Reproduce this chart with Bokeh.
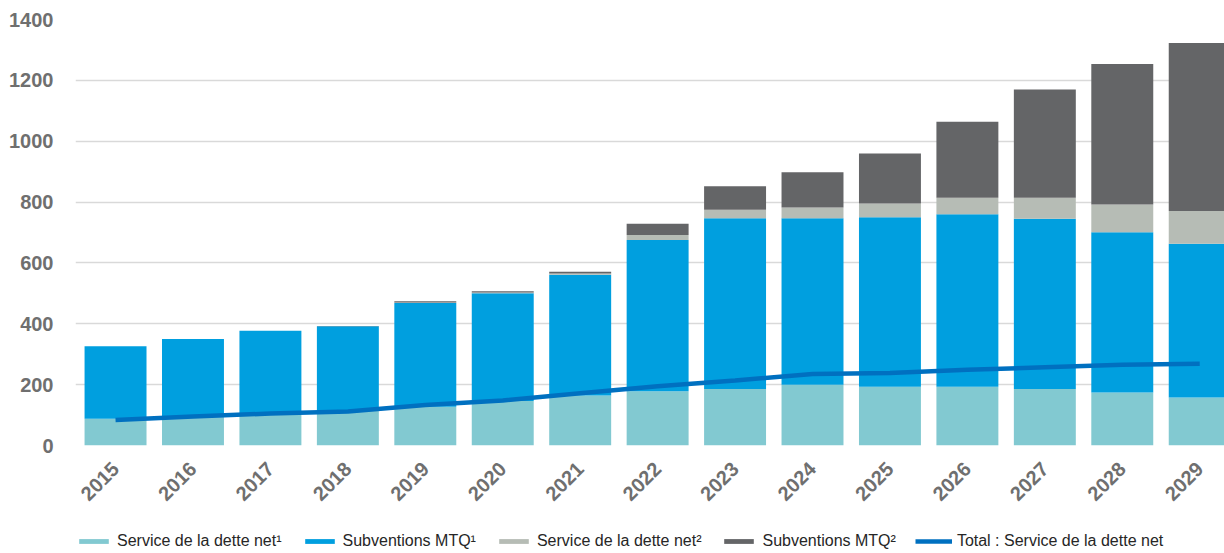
import math
from bokeh.plotting import figure
from bokeh.layouts import column
from bokeh.models import (ColumnDataSource, Range1d, FixedTicker, Legend, LegendItem)
from bokeh.embed import file_html
from bokeh.resources import INLINE

years = [2015, 2016, 2017, 2018, 2019, 2020, 2021, 2022, 2023, 2024, 2025, 2026, 2027, 2028, 2029]
service_net_1 = [88, 93, 104, 113, 127, 146, 164, 178, 186, 200, 193, 193, 186, 174, 158]
subventions_mtq_1 = [238, 257, 273, 279, 341, 354, 397, 497, 561, 547, 557, 567, 559, 527, 505]
service_net_2 = [0, 0, 0, 0, 2, 3, 4, 17, 28, 35, 45, 54, 69, 91, 108]
subventions_mtq_2 = [0, 0, 0, 1, 4, 4, 6, 37, 77, 116, 165, 250, 356, 462, 552]
total_service_net = [84, 95, 105, 112, 133, 148, 172, 195, 214, 235, 238, 249, 257, 265, 269]
y_ticks = [0, 200, 400, 600, 800, 1000, 1200, 1400]

labels = ["Service de la dette net\u00b9", "Subventions MTQ\u00b9",
          "Service de la dette net\u00b2", "Subventions MTQ\u00b2",
          "Total : Service de la dette net"]
colors = ["#82C9D1", "#009FDF", "#B6BCB5", "#646567"]
line_color = "#0070C0"

source = ColumnDataSource(dict(year=years, s1=service_net_1, m1=subventions_mtq_1,
                               s2=service_net_2, m2=subventions_mtq_2,
                               total=total_service_net))

p = figure(width=1224, height=510,
           x_range=Range1d(2014.483, 2029.32), y_range=Range1d(0, 1400),
           output_backend="svg", toolbar_location=None,
           min_border_left=75, min_border_right=0, min_border_top=19,
           min_border_bottom=65)
p.outline_line_color = None

bars = p.vbar_stack(["s1", "m1", "s2", "m2"], x="year", width=0.8,
                    fill_color=colors, line_color=None, source=source)
ln = p.line("year", "total", source=source, line_width=4.5, line_color=line_color)

p.xgrid.visible = False
p.ygrid.grid_line_color = "#D9D9D9"
p.ygrid.grid_line_width = 1.5

p.yaxis.ticker = FixedTicker(ticks=y_ticks)
p.xaxis.ticker = FixedTicker(ticks=years)
for ax in (p.xaxis[0], p.yaxis[0]):
    ax.axis_line_color = None
    ax.major_tick_line_color = None
    ax.minor_tick_line_color = None
    ax.major_label_text_font = "Liberation Sans"
    ax.major_label_text_font_style = "bold"
    ax.major_label_text_font_size = "20px"
    ax.major_label_text_color = "#6f6f6f"
p.yaxis.major_label_standoff = 16
p.xaxis.major_label_standoff = 14
p.xaxis.major_label_orientation = math.pi / 4

# legend drawn in a thin strip under the chart (proxy glyphs lie outside its ranges)
lg = figure(width=1224, height=42, output_backend="svg", toolbar_location=None,
            x_range=Range1d(0, 1), y_range=Range1d(0, 1),
            x_axis_location=None, y_axis_location=None,
            min_border_left=0, min_border_right=0, min_border_top=0,
            min_border_bottom=0)
lg.grid.visible = False
lg.outline_line_color = None
proxies = [lg.vbar(x=[5], top=[5], bottom=[4], width=1, fill_color=c, line_color=None)
           for c in colors]
proxies.append(lg.line(x=[5, 6], y=[5, 5], line_width=4.5, line_color=line_color))

items = [LegendItem(label=labels[i], renderers=[proxies[i]]) for i in range(5)]
legend = Legend(items=items, orientation="horizontal", location=(0, 2),
                glyph_width=37, glyph_height=6, label_standoff=5, spacing=19,
                padding=0, margin=0, border_line_color=None,
                background_fill_alpha=0,
                label_text_font="Liberation Sans", label_text_font_size="16px",
                label_text_color="#262626", label_height=16)
lg.add_layout(legend, "center")

layout = column(p, lg, spacing=0)
open("out.html", "w").write(file_html(layout, INLINE))
